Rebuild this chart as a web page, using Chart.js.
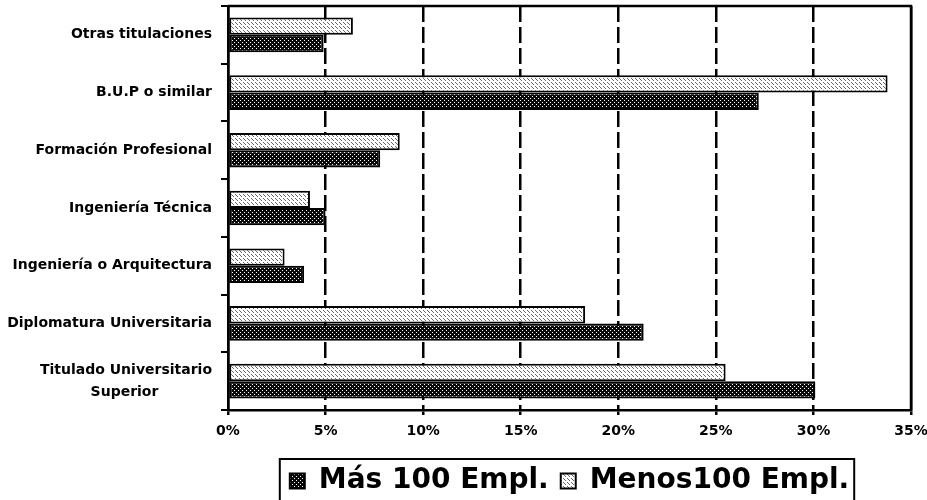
<!DOCTYPE html>
<html>
<head>
<meta charset="utf-8">
<script src="https://cdn.jsdelivr.net/npm/chart.js@4"></script>
<style>
  html, body { margin: 0; padding: 0; background: #fff; }
</style>
</head>
<body>
<canvas id="chart" width="927" height="500"></canvas>
<script>
// Categories, top to bottom
const categories = [
    'Otras titulaciones',
    'B.U.P o similar',
    'Formación Profesional',
    'Ingeniería Técnica',
    'Ingeniería o Arquitectura',
    'Diplomatura Universitaria',
    ['Titulado Universitario', 'Superior']
];

// Percentages
const masData = [4.9, 27.2, 7.8, 5.0, 3.9, 21.3, 30.1];
const menosData = [6.4, 33.8, 8.8, 4.2, 2.9, 18.3, 25.5];

const xMin = 0;
const xMax = 35;
const xStep = 5;

const FONT = '"DejaVu Sans", Verdana, sans-serif';

// small dotted fills like the scanned hatching
function makePattern(bg, dot, dots) {
    const c = document.createElement('canvas');
    c.width = 4;
    c.height = 4;
    const g = c.getContext('2d');
    g.fillStyle = bg;
    g.fillRect(0, 0, 4, 4);
    g.fillStyle = dot;
    dots.forEach(([x, y]) => g.fillRect(x, y, 1, 1));
    return g.createPattern(c, 'repeat');
}

const masFill = makePattern('#0a0a0a', '#fff', [[0, 0], [2, 2]]);
const menosFill = makePattern('#fff', '#666', [[1, 0], [3, 2], [0, 3]]);

// top/right frame of the plot and the box round the legend
const framePlugin = {
    id: 'frame',
    afterDatasetsDraw(chart) {
        const { ctx, chartArea: a } = chart;
        ctx.save();
        ctx.strokeStyle = '#000';
        ctx.lineWidth = 2.5;
        ctx.beginPath();
        ctx.moveTo(a.left, a.top);
        ctx.lineTo(a.right, a.top);
        ctx.lineTo(a.right, a.bottom);
        ctx.stroke();
        ctx.restore();
    },
    afterDraw(chart) {
        const boxes = chart.legend.legendHitBoxes;
        if (!boxes || !boxes.length) return;
        const first = boxes[0];
        const last = boxes[boxes.length - 1];
        const left = first.left - 10;
        const right = last.left + last.width + 5;
        const top = first.top - 8;
        const ctx = chart.ctx;
        ctx.save();
        ctx.strokeStyle = '#000';
        ctx.lineWidth = 2;
        ctx.strokeRect(left, top, right - left, 60);
        ctx.restore();
    }
};

const chart = new Chart(document.getElementById('chart'), {
    type: 'bar',
    data: {
        labels: categories,
        datasets: [
            {
                label: 'Menos100 Empl.',
                data: menosData,
                backgroundColor: menosFill,
                borderColor: '#000',
                borderWidth: 2,
                borderSkipped: false
            },
            {
                label: 'Más 100 Empl.',
                data: masData,
                backgroundColor: masFill,
                borderColor: '#000',
                borderWidth: 2,
                borderSkipped: false
            }
        ]
    },
    options: {
        indexAxis: 'y',
        responsive: false,
        animation: false,
        categoryPercentage: 0.6,
        barPercentage: 1.0,
        layout: { padding: { top: 6, right: 16, bottom: 0, left: 0 } },
        plugins: {
            tooltip: { enabled: false },
            legend: {
                position: 'bottom',
                fullSize: false,
                reverse: true,
                maxHeight: 45,
                labels: {
                    color: '#000',
                    font: { family: FONT, size: 28, weight: 'bold' },
                    boxWidth: 15,
                    boxHeight: 15,
                    padding: 12
                }
            }
        },
        scales: {
            x: {
                min: xMin,
                max: xMax,
                ticks: {
                    stepSize: xStep,
                    color: '#000',
                    padding: 8,
                    font: { family: FONT, size: 14, weight: 'bold' },
                    callback: v => v + '%'
                },
                grid: {
                    color: '#000',
                    lineWidth: 2.5,
                    tickLength: 5
                },
                border: {
                    display: true,
                    color: '#000',
                    width: 2.5,
                    dash: ctx => (ctx.tick && ctx.tick.value > xMin && ctx.tick.value < xMax) ? [16, 5] : []
                },
                afterFit: s => {
                    s.height = 45;
                    s.paddingLeft = 0;
                    s.paddingRight = 0;
                }
            },
            y: {
                ticks: {
                    color: '#000',
                    padding: 9,
                    font: { family: FONT, size: 14, weight: 'bold', lineHeight: 1.6 },
                    // centre the second line under the first
                    callback: function (v) {
                        const l = this.getLabelForValue(v);
                        return Array.isArray(l) ? [l[0], l[1] + ' '.repeat(11)] : l;
                    }
                },
                grid: {
                    drawOnChartArea: false,
                    color: '#000',
                    lineWidth: 2,
                    tickLength: 7
                },
                border: { display: true, color: '#000', width: 2.5 },
                afterFit: s => {
                    s.width = 228;
                    s.paddingTop = 0;
                    s.paddingBottom = 0;
                }
            }
        }
    },
    plugins: [framePlugin]
});
</script>
</body>
</html>
